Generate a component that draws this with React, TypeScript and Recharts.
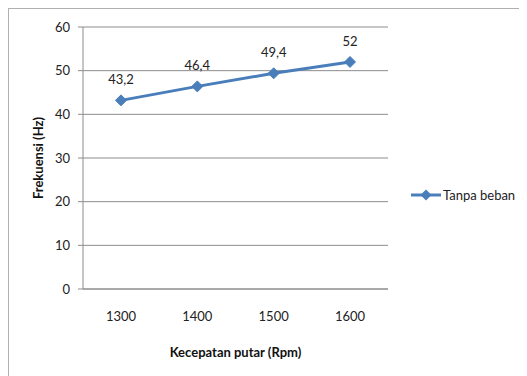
import { LineChart, Line, XAxis, YAxis, CartesianGrid, Legend, LabelList } from "recharts";

const categories = ["1300", "1400", "1500", "1600"];
const frekuensi = [43.2, 46.4, 49.4, 52];
const yTicks = [0, 10, 20, 30, 40, 50, 60];
const seriesName = "Tanpa beban";

const data = categories.map((name, i) => ({ name, value: frekuensi[i] }));

const font = "Lato, 'Open Sans', sans-serif";
const blue = "#4A7EBB";

const Diamond = (props: any) => {
  const { cx, cy } = props;
  if (cx == null || cy == null) return null;
  const r = 5.5;
  return (
    <path
      d={`M${cx},${cy - r} L${cx + r},${cy} L${cx},${cy + r} L${cx - r},${cy} Z`}
      fill={blue}
      stroke={blue}
      strokeWidth={1}
    />
  );
};

const renderLegend = () => (
  <div style={{ display: "flex", alignItems: "center", height: 16, fontFamily: font, fontSize: 13, color: "#222" }}>
    <svg width={31} height={16}>
      <line x1={0} y1={8} x2={30} y2={8} stroke={blue} strokeWidth={3} />
      <path d="M15,2.5 L20.5,8 L15,13.5 L9.5,8 Z" fill={blue} />
    </svg>
    <span style={{ marginLeft: 1 }}>{seriesName}</span>
  </div>
);

export default function App() {
  return (
    <div style={{ width: 518, height: 367, borderLeft: "1px solid #b0b0b0", borderTop: "1px solid #b0b0b0", background: "#fff" }}>
      <LineChart width={518} height={367} data={data} margin={{ top: 18, right: 139, bottom: 17, left: 0 }}>
        <CartesianGrid vertical={false} stroke="#8c8c8c" />
        <XAxis
          dataKey="name"
          height={70}
          padding={{ left: 38, right: 38 }}
          axisLine={{ stroke: "#8c8c8c" }}
          tickLine={false}
          tickSize={0}
          tickMargin={23}
          tick={{ fill: "#222", fontSize: 13, fontFamily: font }}
          label={{
            value: "Kecepatan putar (Rpm)",
            position: "insideBottom",
            offset: 2,
            style: { fill: "#111", fontSize: 13, fontWeight: 700, fontFamily: font },
          }}
        />
        <YAxis
          width={74}
          domain={[0, 60]}
          ticks={yTicks}
          interval={0}
          axisLine={{ stroke: "#8c8c8c" }}
          tickLine={{ stroke: "#8c8c8c" }}
          tickSize={5}
          tickMargin={8}
          tick={{ fill: "#222", fontSize: 13, fontFamily: font }}
          label={{
            value: "Frekuensi (Hz)",
            angle: -90,
            position: "insideLeft",
            offset: 29,
            style: { textAnchor: "middle", fill: "#111", fontSize: 13, fontWeight: 700, fontFamily: font },
          }}
        />
        <Legend
          layout="horizontal"
          verticalAlign="middle"
          align="center"
          content={renderLegend}
          wrapperStyle={{ left: 402, top: 178, width: 116 }}
        />
        <Line
          dataKey="value"
          name={seriesName}
          stroke={blue}
          strokeWidth={3}
          dot={<Diamond />}
          activeDot={false}
          isAnimationActive={false}
        >
          <LabelList
            dataKey="value"
            position="top"
            offset={16}
            formatter={(v: any) => String(v).replace(".", ",")}
            style={{ fill: "#222", fontSize: 13, fontFamily: font }}
          />
        </Line>
      </LineChart>
    </div>
  );
}
